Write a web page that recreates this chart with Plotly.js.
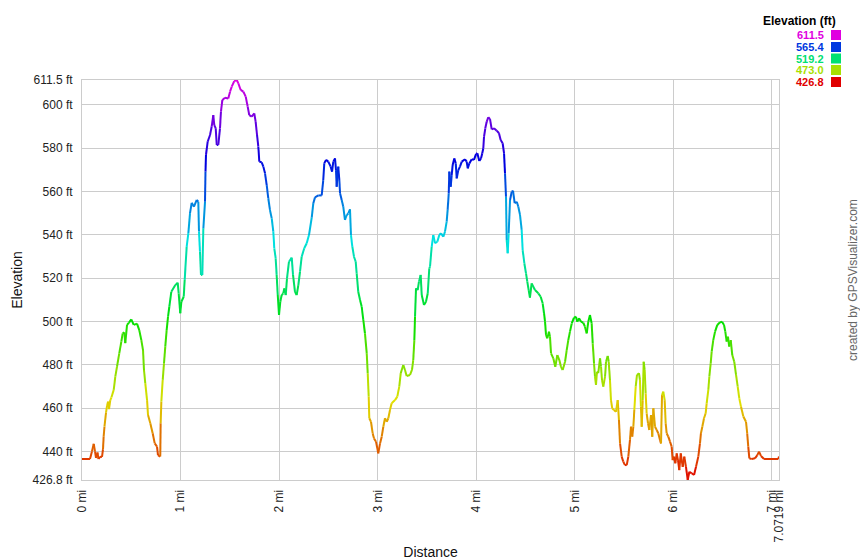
<!DOCTYPE html>
<html>
<head>
<meta charset="utf-8">
<script src="https://cdn.plot.ly/plotly-3.0.1.min.js"></script>
<style>html,body{margin:0;padding:0;background:#fff;}#chart{width:860px;height:560px;}</style>
</head>
<body>
<div id="chart"></div>
<script>
// Distance (mi) along the track
var distanceMi = [
0,0.081,0.101,0.119,0.132,0.142,0.157,0.167,0.183,0.203,0.213,0.220,0.228,0.244,0.254,0.264,0.274,0.287,0.299,0.322,
0.338,0.355,0.378,0.399,0.413,0.429,0.439,0.457,0.477,0.500,0.525,0.558,0.581,0.602,0.619,0.629,0.642,0.660,0.670,0.693,
0.717,0.738,0.761,0.771,0.794,0.798,0.805,0.819,0.832,0.845,0.859,0.873,0.886,0.906,0.947,0.971,0.981,0.997,1.008,1.032,
1.042,1.062,1.079,1.096,1.113,1.136,1.164,1.180,1.187,1.197,1.207,1.221,1.231,1.248,1.253,1.258,1.275,1.299,1.316,1.332,
1.342,1.357,1.367,1.383,1.400,1.410,1.424,1.451,1.484,1.502,1.519,1.545,1.570,1.586,1.610,1.637,1.661,1.681,1.697,1.722,
1.748,1.762,1.776,1.789,1.799,1.823,1.840,1.857,1.874,1.890,1.907,1.925,1.941,1.951,1.965,1.975,1.986,1.999,2.012,2.026,
2.042,2.053,2.067,2.080,2.100,2.128,2.141,2.161,2.178,2.195,2.212,2.229,2.255,2.280,2.303,2.331,2.347,2.364,2.398,2.432,
2.448,2.458,2.476,2.499,2.523,2.537,2.550,2.567,2.577,2.584,2.600,2.611,2.618,2.635,2.651,2.668,2.686,2.702,2.719,2.729,
2.743,2.760,2.777,2.787,2.803,2.821,2.838,2.854,2.871,2.889,2.899,2.909,2.915,2.932,2.949,2.963,2.983,3.006,3.024,3.041,
3.057,3.074,3.092,3.108,3.125,3.142,3.176,3.199,3.219,3.234,3.260,3.277,3.294,3.328,3.348,3.361,3.372,3.379,3.389,3.406,
3.419,3.436,3.447,3.470,3.490,3.508,3.524,3.531,3.548,3.564,3.582,3.605,3.625,3.643,3.666,3.683,3.700,3.710,3.721,3.727,
3.741,3.751,3.761,3.777,3.792,3.802,3.818,3.835,3.853,3.886,3.903,3.914,3.930,3.954,3.977,3.998,4.011,4.031,4.048,4.061,
4.072,4.079,4.092,4.106,4.122,4.140,4.157,4.180,4.208,4.231,4.248,4.268,4.282,4.292,4.302,4.309,4.319,4.329,4.343,4.360,
4.373,4.390,4.411,4.427,4.444,4.461,4.471,4.488,4.505,4.518,4.532,4.545,4.562,4.596,4.630,4.654,4.674,4.688,4.698,4.708,
4.721,4.738,4.748,4.759,4.782,4.802,4.823,4.843,4.860,4.877,4.901,4.918,4.934,4.951,4.969,4.992,5.012,5.025,5.043,5.063,
5.086,5.103,5.121,5.137,5.154,5.171,5.182,5.195,5.205,5.215,5.225,5.238,5.256,5.266,5.276,5.289,5.307,5.317,5.334,5.344,
5.357,5.367,5.380,5.397,5.418,5.435,5.448,5.459,5.476,5.492,5.509,5.527,5.543,5.560,5.570,5.583,5.594,5.604,5.618,5.631,
5.651,5.661,5.671,5.679,5.689,5.699,5.709,5.719,5.729,5.743,5.756,5.773,5.786,5.797,5.814,5.831,5.847,5.864,5.875,5.885,
5.898,5.912,5.922,5.932,5.949,5.966,5.983,5.993,6.006,6.020,6.034,6.047,6.060,6.075,6.095,6.111,6.128,6.146,6.162,6.186,
6.210,6.230,6.253,6.270,6.280,6.294,6.311,6.328,6.338,6.355,6.365,6.379,6.389,6.405,6.423,6.446,6.473,6.494,6.514,6.527,
6.541,6.554,6.567,6.582,6.598,6.618,6.636,6.653,6.669,6.686,6.710,6.737,6.749,6.760,6.771,6.795,6.828,6.852,6.869,6.889,
6.920,7.065,7.0719
];
// Elevation (ft)
var elevationFt = [
436.5,436.5,440,443.5,440,437,439.5,436.5,437.5,437.5,441,447,451.4,458,461,463,459.5,463.7,465,468.4,
474.5,479.1,485.3,490.7,494.5,495,490,498.4,499.5,501,498.4,499,496,491.4,486.8,477.6,471.5,463.7,456.8,453,
448.4,443.7,442.2,438.3,437.6,453,463,473,480.7,488.4,496,502.2,506.8,513.7,516.8,517.9,513,503.8,509.1,511.4,
519.2,534.5,540.8,550,554.8,553,556.1,555.3,541.5,532.2,521.5,521.5,543,555.3,569.2,576.9,583,586.1,590,595.3,
590.7,589.2,581.5,581.5,589.2,596.9,602.3,603.3,603,606.1,608.4,611,611.5,610,606.9,606.1,603.8,599.2,595.3,594.6,
596.1,592.2,586.1,580.7,573.8,573.5,571.5,568.4,563,556.9,551.5,547.6,541.5,533.8,529.2,521.5,512.2,503,509.1,512.2,
513,515.3,512.2,519.9,527.6,529.5,521.5,513.7,512.2,516.8,523,529.9,533.8,536.1,539.9,548,554.6,557.3,558.2,558.2,
565.3,573,574.6,573.8,571.5,569.2,573.8,575.3,569.9,562.2,571.5,565.3,559.2,556.1,553,546.9,549.2,549.9,551.8,539.9,
534.5,529.9,527.6,522.2,513.7,509.9,506.8,500.7,494.5,485.3,476.1,465.3,455.3,453.7,448.4,446,444.5,439.1,443.7,446.8,
451.4,455.3,453.7,455.3,459.1,462.2,463.7,465.3,469.9,476.1,479.9,477.6,474.8,475.3,477.6,482.2,491.4,502.2,515.3,514.5,
518.4,521.5,512.2,507.6,509.1,513,524.6,525.3,534.5,539.9,536.1,536.8,539.9,540.7,539.1,541.5,546.1,551.5,559.2,569.2,
562.2,567.6,572.3,575.3,573,566.1,569.9,571.5,573.8,574.9,573.8,570.7,573,574.9,574.6,577.3,577.7,574.1,575.3,577.7,
580,585.3,589.2,592.2,594.3,593.4,588.7,589.2,588.1,586.9,583.8,582.3,577.7,568.4,557.6,537.6,531.5,540.7,556.1,559.9,
560.4,554.6,555.3,553,549.2,542.3,533,526.9,522.2,518.4,514.5,511,517.6,514.5,513,511.4,508.4,503.8,499.9,493.8,
492.2,495.3,493,485.3,483,479.1,484.5,482.2,479.1,477.6,481.4,486.8,491.4,495.3,499.1,501.8,502.2,499.9,501.5,499.9,
499.4,497.6,494.5,499.9,503,499.1,489.9,480.7,474.5,470.7,476.8,476.1,483,479.1,473,469.9,474.5,481.4,484.1,481.4,
473,463.7,459.9,459.1,458.3,463.7,454.5,443.7,437.6,435.3,433.7,433.7,437.6,445.3,451.4,446.8,451.4,459.1,469.9,475.3,
476.1,473,460.7,451.4,463.7,481.4,477.6,466.8,457.6,453,449.9,456.8,446.8,459.9,451.4,449.9,448.4,445.3,443.7,466,
467.6,463.7,453,448.4,446.8,444.5,442.2,436,437.6,434.5,439.1,436,431.4,439.1,432.9,437.6,432.9,426.8,430.6,429.9,
429.1,432.9,437.6,443.7,448.4,451.4,455.3,457.6,462.2,468.4,474.5,480.7,486.1,491.4,495.3,498.4,499.6,499.9,498.4,495.3,
490.7,493,488.4,491.4,484.5,481.4,475.3,469.9,464.5,460.7,456.1,453.7,448.4,442.2,436.8,436.5,436.8,438.3,439.9,437.9,
436.5,436.5,437.6
];
var xTickVals = [0,1,2,3,4,5,6,7,7.0719];
var xTickText = ["0 mi","1 mi","2 mi","3 mi","4 mi","5 mi","6 mi","7 mi","7.0719 mi"];
var yTickVals = [426.8,440,460,480,500,520,540,560,580,600,611.5];
var yTickText = ["426.8 ft","440 ft","460 ft","480 ft","500 ft","520 ft","540 ft","560 ft","580 ft","600 ft","611.5 ft"];
var legendValues = [611.5,565.4,519.2,473.0,426.8];
var legendLabels = ["611.5","565.4","519.2","473.0","426.8"];

var eMin = 426.8, eMax = 611.5;
function colorFor(e){
  var t = Math.max(0, Math.min(1, (e - eMin) / (eMax - eMin)));
  var h = 300 * t;
  return "hsl(" + h.toFixed(1) + ",100%,44%)";
}

// group line segments into colour bins
var bins = {};
for (var i = 0; i < distanceMi.length - 1; i++) {
  var m = (elevationFt[i] + elevationFt[i+1]) / 2;
  var t = (m - eMin) / (eMax - eMin);
  var b = Math.round(t * 60);
  if (!bins[b]) bins[b] = {x: [], y: []};
  bins[b].x.push(distanceMi[i], distanceMi[i+1], null);
  bins[b].y.push(elevationFt[i], elevationFt[i+1], null);
}
var traces = [];
Object.keys(bins).forEach(function(k){
  var b = +k;
  var e = eMin + (b / 60) * (eMax - eMin);
  traces.push({
    type: "scatter", mode: "lines", x: bins[k].x, y: bins[k].y,
    line: {color: colorFor(e), width: 2}, hoverinfo: "skip", showlegend: false, connectgaps: false
  });
});

var X0 = 82, X1 = 779, Y0 = 80, Y1 = 480;
function px(x){ return (x - X0) / (X1 - X0); }
function py(y){ return (Y1 - y) / (Y1 - Y0); }

var annotations = [];
var shapes = [];
annotations.push({xref:"paper", yref:"paper", x: px(838), y: py(21), xanchor:"right", yanchor:"middle",
  text:"<b>Elevation (ft)</b>", showarrow:false, font:{family:"Liberation Sans, Arial, sans-serif", size:12, color:"#000"}});
var rowY = [35, 47, 58.5, 70, 82];
for (var j = 0; j < legendValues.length; j++) {
  var c = colorFor(legendValues[j]);
  annotations.push({xref:"paper", yref:"paper", x: px(825), y: py(rowY[j]), xanchor:"right", yanchor:"middle",
    text:"<b>" + legendLabels[j] + "</b>", showarrow:false, borderpad:0,
    font:{family:"Liberation Sans, Arial, sans-serif", size:11, color:c}});
  shapes.push({type:"rect", xref:"paper", yref:"paper", x0: px(831), x1: px(841), y0: py(rowY[j]+5), y1: py(rowY[j]-5),
    fillcolor:c, line:{width:0}});
}
annotations.push({xref:"paper", yref:"paper", x: px(853), y: py(280), xanchor:"center", yanchor:"middle", textangle:-90,
  text:"created by GPSVisualizer.com", showarrow:false, font:{family:"Liberation Sans, Arial, sans-serif", size:12, color:"#666"}});

var layout = {
  width: 860, height: 560,
  margin: {l: 82, r: 81, t: 80, b: 80, pad: 0},
  paper_bgcolor: "#fff", plot_bgcolor: "#fff",
  font: {family: "Liberation Sans, Arial, sans-serif", size: 12, color: "#222"},
  showlegend: false,
  xaxis: {
    range: [0, 7.0719], autorange: false, tickmode: "array", tickvals: xTickVals, ticktext: xTickText,
    tickangle: -90, showgrid: true, gridcolor: "#cccccc", gridwidth: 1, zeroline: false,
    showline: true, linecolor: "#cccccc", mirror: true, ticks: "", ticklabelstandoff: 4,
    tickfont: {size: 12, color: "#222"},
    title: {text: "Distance", font: {size: 14, color: "#111"}, standoff: 8}
  },
  yaxis: {
    range: [426.8, 611.5], autorange: false, tickmode: "array", tickvals: yTickVals, ticktext: yTickText,
    showgrid: true, gridcolor: "#cccccc", gridwidth: 1, zeroline: false,
    showline: true, linecolor: "#cccccc", mirror: true, ticks: "", ticklabelstandoff: 6,
    tickfont: {size: 12, color: "#222"},
    title: {text: "Elevation", font: {size: 14, color: "#111"}, standoff: 6}
  },
  annotations: annotations,
  shapes: shapes
};
Plotly.newPlot("chart", traces, layout, {displayModeBar: false, staticPlot: true});
</script>
</body>
</html>
